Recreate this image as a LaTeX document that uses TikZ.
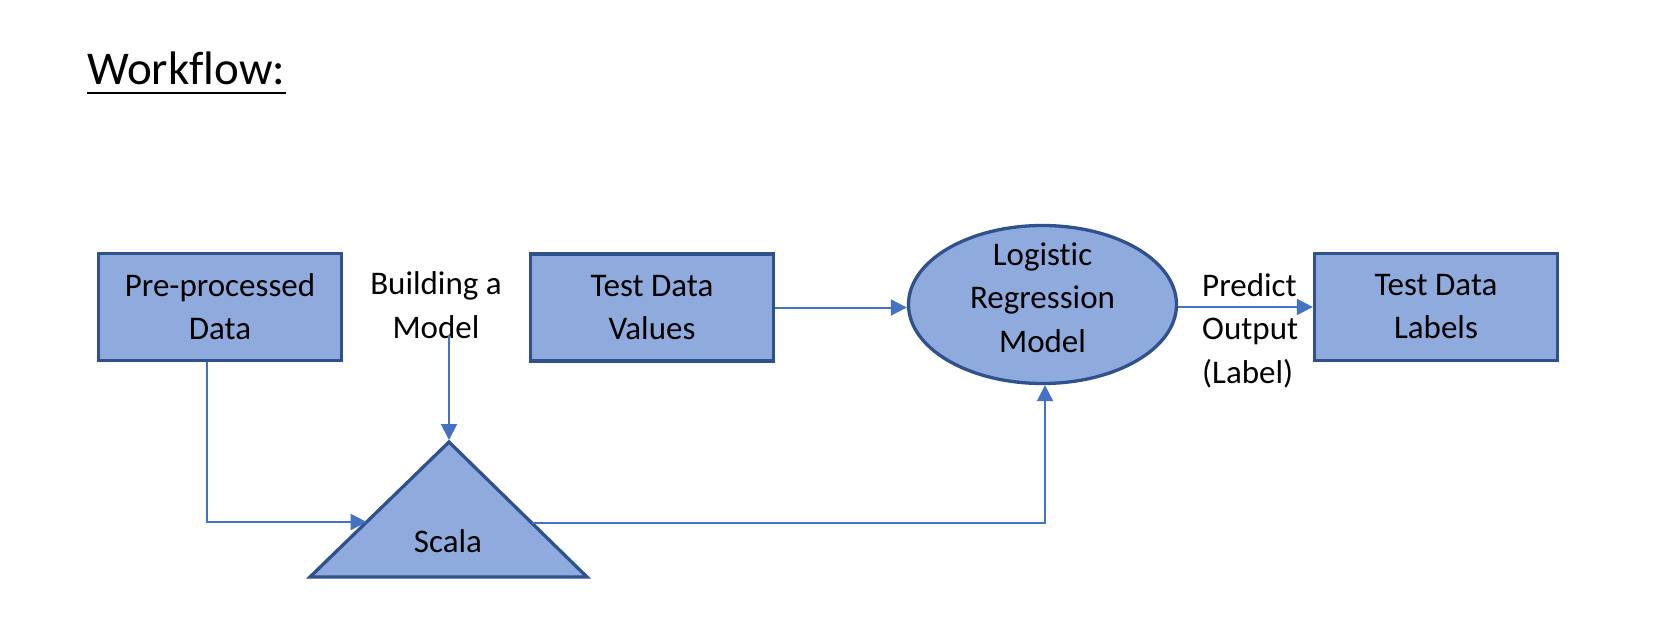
\documentclass[tikz,border=0pt]{standalone}
\usepackage{fontspec}
\setmainfont{Carlito}[Ligatures=NoCommon]
\usetikzlibrary{arrows.meta,shapes.geometric,calc}
\definecolor{fillb}{HTML}{8FAADC}
\definecolor{edgeb}{HTML}{2F528F}
\definecolor{connc}{HTML}{4472C4}
\begin{document}
\begin{tikzpicture}[x=1pt,y=-1pt,
  box/.style={draw=edgeb,fill=fillb,line width=3.3pt,minimum width=243pt,minimum height=107pt,inner sep=0pt,
    font=\fontsize{33}{43}\selectfont,align=center},
  txt/.style={font=\fontsize{33}{43.5}\selectfont,align=center,inner sep=0pt},
  conn/.style={draw=connc,line width=2pt},
  arr/.style={conn,-{Triangle[length=16pt,width=16pt]}},
]
\useasboundingbox (0,0) rectangle (1659,628);
% title
\node[anchor=base west,font=\fontsize{47}{50}\selectfont,inner sep=0pt] (title) at (87,85) {Workflow:};
\draw[line width=2.2pt] ([yshift=-8pt]title.base west) -- ([yshift=-8pt]title.base east);
% boxes
\node[box] (pre) at (220,307) {Pre-processed\\Data};
\node[box] (tdv) at (652,307.5) {Test Data\\Values};
\node[box] (tdl) at (1436,307) {Test Data\\Labels};
\node[draw=edgeb,fill=fillb,line width=3.3pt,ellipse,minimum width=268pt,minimum height=158pt,inner sep=0pt] (ell) at (1042.5,304.5) {};
\node[txt,anchor=base] (ellt) at (1042.5,352) {Logistic\\Regression\\Model};
% triangle
\coordinate (apex) at (449,442);
\coordinate (bl) at (310,577);
\coordinate (br) at (587,577);
\draw[draw=edgeb,fill=fillb,line width=3.3pt,line join=miter] (apex) -- (br) -- (bl) -- cycle;
\node[txt,anchor=base] (scala) at (448,552) {Scala};
\coordinate (tl) at ($(apex)!0.5926!(bl)$);
\coordinate (tr) at ($(apex)!0.6!(br)$);
% labels
\node[txt,anchor=base] (bam) at (436,338) {Building a\\Model};
\node[txt,align=left,anchor=base west] (pred) at (1202,383) {Predict\\Output\\(Label)};
% connectors
\draw[arr] ([xshift=-13pt]pre.south) |- (tl);
\draw[arr,shorten >=2pt] ([yshift=3pt]bam.south -| apex) -- (apex);
\draw[arr] (tr) -| ([xshift=2.5pt]ell.south);
\draw[arr] (tdv.east) -- (tdv.east -| ell.west);
\draw[arr] (ell.east |- tdl.west) -- (tdl.west);
\end{tikzpicture}
\end{document}
